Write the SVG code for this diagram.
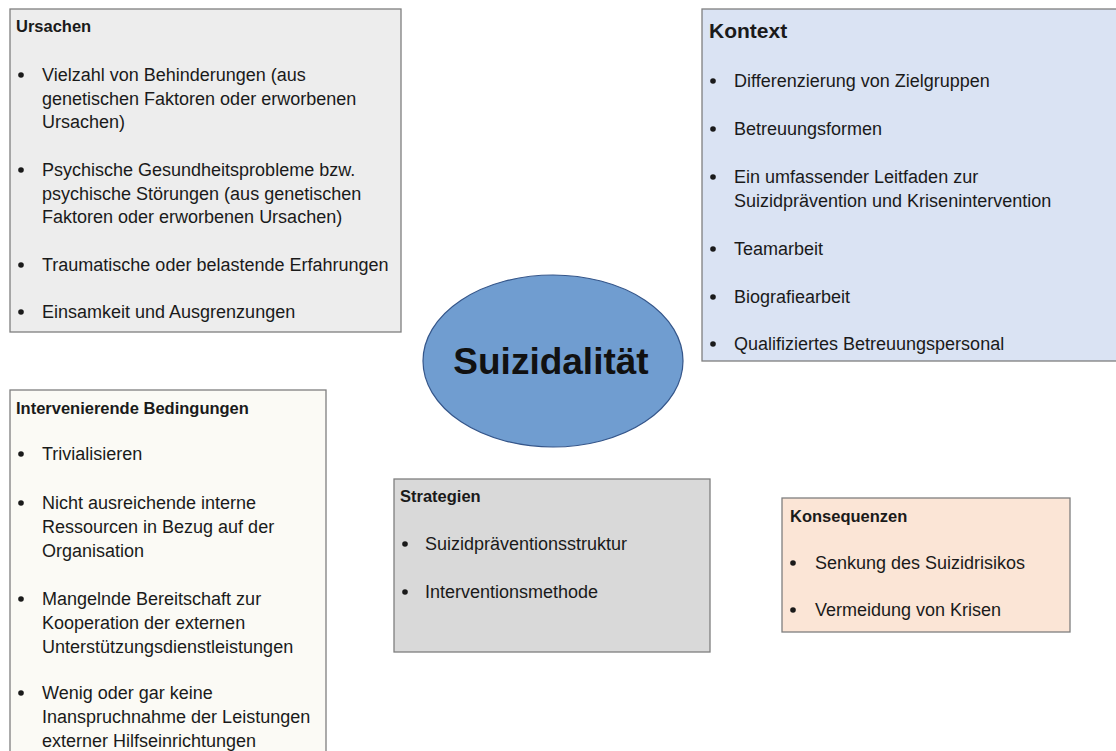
<svg xmlns="http://www.w3.org/2000/svg" width="1116" height="751" viewBox="0 0 1116 751">
<style>
.box{stroke:#7f7f7f;stroke-width:1.3}
.t{font-family:"Liberation Sans",Arial,sans-serif;font-size:18px;fill:#1a1a1a}
.h{font-family:"Liberation Sans",Arial,sans-serif;font-size:16.5px;font-weight:bold;fill:#1a1a1a}
.b{fill:#1a1a1a}
</style>
<rect width="1116" height="751" fill="#ffffff"/>
<g id="ursachen">
<rect class="box" x="10" y="9" width="391" height="323" fill="#ededed"/>
<text class="h" x="16" y="32">Ursachen</text>
<circle class="b" cx="21" cy="75" r="2.8"/>
<text class="t" x="42" y="81">Vielzahl von Behinderungen (aus</text>
<text class="t" x="42" y="105">genetischen Faktoren oder erworbenen</text>
<text class="t" x="42" y="128">Ursachen)</text>
<circle class="b" cx="21" cy="170" r="2.8"/>
<text class="t" x="42" y="176">Psychische Gesundheitsprobleme bzw.</text>
<text class="t" x="42" y="200">psychische Störungen (aus genetischen</text>
<text class="t" x="42" y="223">Faktoren oder erworbenen Ursachen)</text>
<circle class="b" cx="21" cy="265" r="2.8"/>
<text class="t" x="42" y="271">Traumatische oder belastende Erfahrungen</text>
<circle class="b" cx="21" cy="312" r="2.8"/>
<text class="t" x="42" y="318">Einsamkeit und Ausgrenzungen</text>
</g>
<g id="kontext">
<rect class="box" x="702" y="9" width="420" height="352" fill="#dae3f3"/>
<text class="h" x="709" y="38" style="font-size:21px">Kontext</text>
<circle class="b" cx="713" cy="81" r="2.8"/>
<text class="t" x="734" y="87">Differenzierung von Zielgruppen</text>
<circle class="b" cx="713" cy="129" r="2.8"/>
<text class="t" x="734" y="135">Betreuungsformen</text>
<circle class="b" cx="713" cy="177" r="2.8"/>
<text class="t" x="734" y="183">Ein umfassender Leitfaden zur</text>
<text class="t" x="734" y="207">Suizidprävention und Krisenintervention</text>
<circle class="b" cx="713" cy="249" r="2.8"/>
<text class="t" x="734" y="255">Teamarbeit</text>
<circle class="b" cx="713" cy="297" r="2.8"/>
<text class="t" x="734" y="303">Biografiearbeit</text>
<circle class="b" cx="713" cy="344" r="2.8"/>
<text class="t" x="734" y="350">Qualifiziertes Betreuungspersonal</text>
</g>
<g id="suizidalitaet">
<ellipse cx="553" cy="361" rx="130" ry="86" fill="#709dd0" stroke="#35568a" stroke-width="1.2"/>
<text x="551" y="374" text-anchor="middle" font-family="'Liberation Sans',Arial,sans-serif" font-size="37" font-weight="bold" fill="#111111">Suizidalität</text>
</g>
<g id="intervenierende">
<rect class="box" x="10" y="390" width="316" height="370" fill="#fbfaf5"/>
<text class="h" x="16" y="414">Intervenierende Bedingungen</text>
<circle class="b" cx="21" cy="454" r="2.8"/>
<text class="t" x="42" y="460">Trivialisieren</text>
<circle class="b" cx="21" cy="503" r="2.8"/>
<text class="t" x="42" y="509">Nicht ausreichende interne</text>
<text class="t" x="42" y="533">Ressourcen in Bezug auf der</text>
<text class="t" x="42" y="557">Organisation</text>
<circle class="b" cx="21" cy="599" r="2.8"/>
<text class="t" x="42" y="605">Mangelnde Bereitschaft zur</text>
<text class="t" x="42" y="629">Kooperation der externen</text>
<text class="t" x="42" y="653">Unterstützungsdienstleistungen</text>
<circle class="b" cx="21" cy="693" r="2.8"/>
<text class="t" x="42" y="699">Wenig oder gar keine</text>
<text class="t" x="42" y="723">Inanspruchnahme der Leistungen</text>
<text class="t" x="42" y="747">externer Hilfseinrichtungen</text>
</g>
<g id="strategien">
<rect class="box" x="394" y="479" width="316" height="173" fill="#d9d9d9"/>
<text class="h" x="400" y="502">Strategien</text>
<circle class="b" cx="405" cy="544" r="2.8"/>
<text class="t" x="425" y="550">Suizidpräventionsstruktur</text>
<circle class="b" cx="405" cy="592" r="2.8"/>
<text class="t" x="425" y="598">Interventionsmethode</text>
</g>
<g id="konsequenzen">
<rect class="box" x="782" y="498" width="288" height="134" fill="#fbe5d6"/>
<text class="h" x="790" y="522">Konsequenzen</text>
<circle class="b" cx="793" cy="563" r="2.8"/>
<text class="t" x="815" y="569">Senkung des Suizidrisikos</text>
<circle class="b" cx="793" cy="610" r="2.8"/>
<text class="t" x="815" y="616">Vermeidung von Krisen</text>
</g>
<g id="connectors"></g>
</svg>
